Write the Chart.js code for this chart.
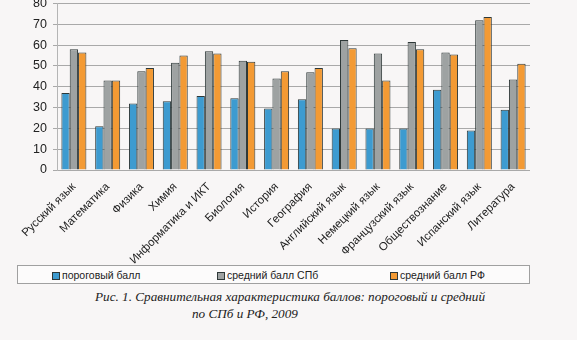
<!DOCTYPE html>
<html>
<head>
<meta charset="utf-8">
<script src="https://cdn.jsdelivr.net/npm/chart.js@4/dist/chart.umd.min.js"></script>
<style>
  body { margin: 0; background: #f8f6f6; }
  #wrap { position: relative; width: 577px; height: 340px; overflow: hidden; }
  #chartBox { position: absolute; left: 0; top: -10px; width: 577px; height: 275px; }
  #legend { position: absolute; left: 17px; top: 265px; width: 513px; height: 19px;
            border: 1px solid #a0a0a0; background: #fcfbfb; box-sizing: border-box;
            font: 10.5px "Liberation Sans", Arial, sans-serif; color: #222; }
  .item { position: absolute; top: 3px; white-space: nowrap; }
  .sw { display: inline-block; width: 6px; height: 6px; border: 1px solid #2e3838; margin-right: 2px; vertical-align: -1px; }
  .cap { position: absolute; font: italic 13.2px "Liberation Serif", "Times New Roman", serif; color: #222; white-space: nowrap; }
</style>
</head>
<body>
<div id="wrap">
  <div id="chartBox"><canvas id="examChart"></canvas></div>
  <div id="legend"></div>
  <div class="cap" style="left:95px; top:289px;">Рис. 1. Сравнительная характеристика баллов: пороговый и средний</div>
  <div class="cap" style="left:192px; top:306px;">по СПб и РФ, 2009</div>
</div>
<script>
var subjects = ['Русский язык', 'Математика', 'Физика', 'Химия', 'Информатика и ИКТ', 'Биология',
    'История', 'География', 'Английский язык', 'Немецкий язык', 'Французский язык',
    'Обществознание', 'Испанский язык', 'Литература'];
var thresholdScore = [37, 21, 32, 33, 35.5, 34.5, 29.5, 34, 20, 20, 20, 38.5, 19, 29];
var avgSpb = [58, 43, 47.5, 51.5, 57, 52.5, 44, 47, 62.5, 56, 61.5, 56.5, 72, 43.5];
var avgRf = [56.5, 43, 49, 55, 56, 52, 47.5, 49, 58.5, 43, 58, 55.5, 73.5, 51];
var seriesNames = ['пороговый балл', 'средний балл СПб', 'средний балл РФ'];
var seriesColors = ['#3d9bd0', '#9ea2a2', '#f39a34'];
var legendLeft = [34, 199, 372];

var chart;
var ctx;

document.addEventListener('DOMContentLoaded', function () {
    ctx = document.getElementById('examChart').getContext('2d');
    var values = [thresholdScore, avgSpb, avgRf];
    var datasets = [];
    for (var i = 0; i < 3; i++) {
        datasets.push({
            label: seriesNames[i],
            data: values[i],
            backgroundColor: seriesColors[i],
            borderColor: '#2e3838',
            borderWidth: 1,
            categoryPercentage: 0.74,
            barPercentage: 1.0
        });
    }

    chart = new Chart(ctx, {
        type: 'bar',
        data: { labels: subjects, datasets: datasets },
        options: {
            responsive: true,
            maintainAspectRatio: false,
            animation: false,
            layout: { padding: { left: 0, right: 47, top: 2, bottom: 0 } },
            plugins: { legend: { display: false }, tooltip: { enabled: false } },
            scales: {
                x: {
                    grid: { display: false },
                    border: { display: false },
                    ticks: {
                        color: '#222',
                        font: { family: 'Liberation Sans', size: 11.5 },
                        minRotation: 45, maxRotation: 45,
                        autoSkip: false, padding: 2
                    },
                    afterFit: function (scale) { scale.height = 95; }
                },
                y: {
                    min: 0, max: 80,
                    ticks: {
                        stepSize: 10, color: '#222', padding: 6,
                        font: { family: 'Liberation Sans', size: 12.5 }
                    },
                    grid: { color: '#a9a9a9', lineWidth: 1, tickLength: 4 },
                    border: { display: true, color: '#b5b5b5' },
                    afterFit: function (scale) { scale.width = 57; }
                }
            }
        }
    });

    // legend drawn as HTML to keep the spacing of the original figure
    var legend = document.getElementById('legend');
    for (var j = 0; j < seriesNames.length; j++) {
        var item = document.createElement('span');
        item.className = 'item';
        item.style.left = legendLeft[j] + 'px';
        item.innerHTML = '<span class="sw" style="background:' + seriesColors[j] + '"></span>' + seriesNames[j];
        legend.appendChild(item);
    }
});
</script>
</body>
</html>
